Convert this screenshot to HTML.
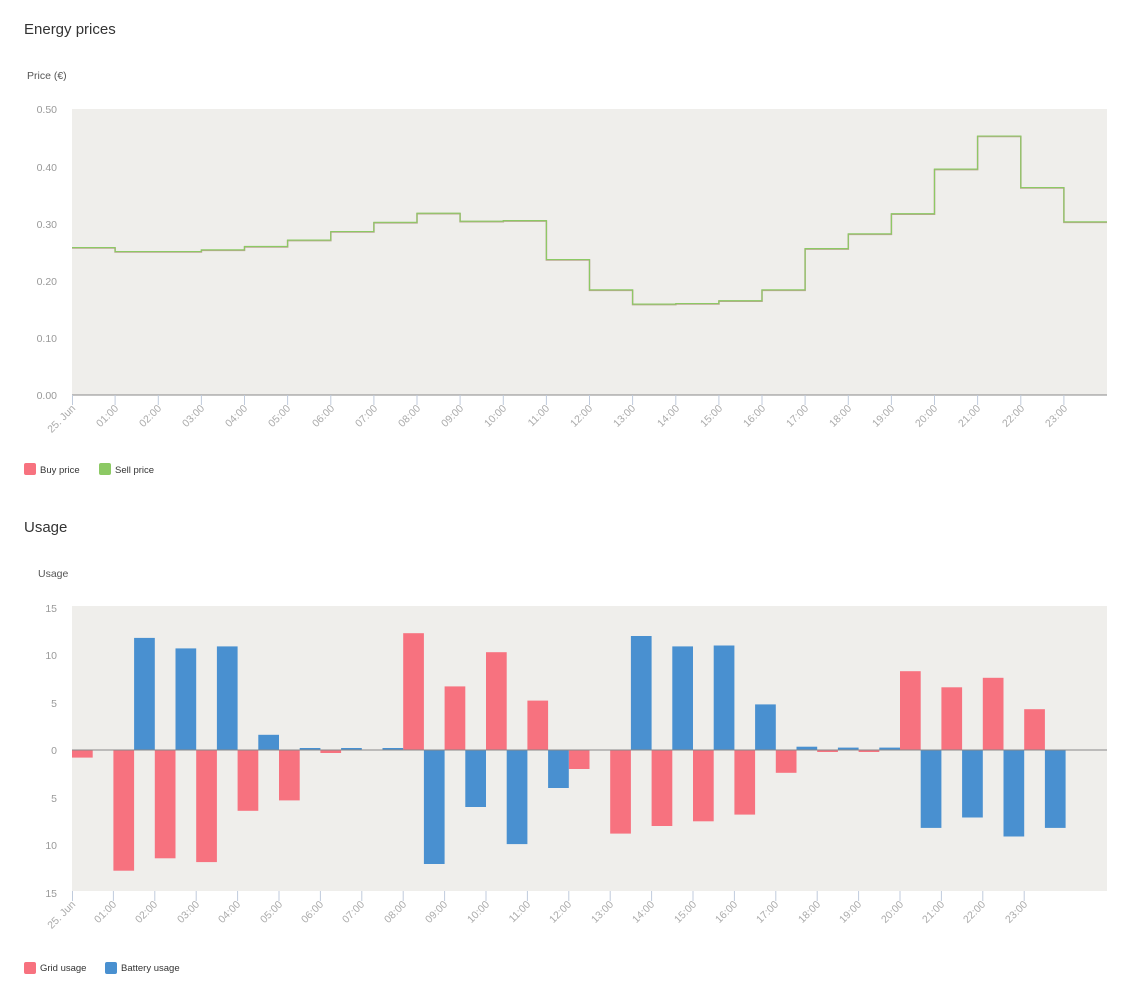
<!DOCTYPE html>
<html><head><meta charset="utf-8"><style>
body{margin:0;background:#fff;width:1133px;height:991px;overflow:hidden;font-family:"Liberation Sans",sans-serif}
svg text{font-family:"Liberation Sans",sans-serif}
</style></head><body>
<svg width="1133" height="991" xmlns="http://www.w3.org/2000/svg">
<text x="24" y="34" font-size="15" fill="#333">Energy prices</text>
<text x="27" y="79" font-size="10.5" fill="#555">Price (€)</text>
<rect x="72" y="109" width="1035" height="286" fill="#efeeeb"/>
<g font-size="10.5" fill="#999" text-anchor="end">
<text x="57" y="113">0.50</text><text x="57" y="171">0.40</text><text x="57" y="228">0.30</text><text x="57" y="285">0.20</text><text x="57" y="342">0.10</text><text x="57" y="399">0.00</text>
</g>
<line x1="72" y1="395" x2="1107" y2="395" stroke="#888" stroke-width="1"/>
<g stroke="#c0cbdc" stroke-width="1">
<path d="M72.5 395v10M115.1 395v10M158.3 395v10M201.4 395v10M244.5 395v10M287.6 395v10M330.8 395v10M373.9 395v10M417 395v10M460.1 395v10M503.3 395v10M546.4 395v10M589.5 395v10M632.6 395v10M675.8 395v10M718.9 395v10M762 395v10M805.1 395v10M848.3 395v10M891.4 395v10M934.5 395v10M977.6 395v10M1020.8 395v10M1063.9 395v10"/>
</g>
<path d="M72,248 H115.1 V252 H158.3 V252 H201.4 V250.3 H244.5 V246.9 H287.6 V240.6 H330.8 V232 H373.9 V222.8 H417 V213.7 H460.1 V221.7 H503.3 V221.1 H546.4 V260 H589.5 V290.3 H632.6 V304.6 H675.8 V304 H718.9 V301.2 H762 V290.3 H805.1 V249.1 H848.3 V234.3 H891.4 V214.2 H934.5 V169.6 H977.6 V136.5 H1020.8 V188 H1063.9 V222.3 H1107" fill="none" stroke="#b8a88f" stroke-width="1.6"/>
<path d="M72,248 H115.1 V252 H158.3 V252 H201.4 V250.3 H244.5 V246.9 H287.6 V240.6 H330.8 V232 H373.9 V222.8 H417 V213.7 H460.1 V221.7 H503.3 V221.1 H546.4 V260 H589.5 V290.3 H632.6 V304.6 H675.8 V304 H718.9 V301.2 H762 V290.3 H805.1 V249.1 H848.3 V234.3 H891.4 V214.2 H934.5 V169.6 H977.6 V136.5 H1020.8 V188 H1063.9 V222.3 H1107" fill="none" stroke="#8cc964" stroke-width="1.1" transform="translate(0,-0.5)"/>
<g font-size="10.5" fill="#aaa" text-anchor="end">
<text transform="translate(76,409) rotate(-45)">25. Jun</text>
<text transform="translate(119,409) rotate(-45)">01:00</text>
<text transform="translate(162,409) rotate(-45)">02:00</text>
<text transform="translate(205,409) rotate(-45)">03:00</text>
<text transform="translate(248,409) rotate(-45)">04:00</text>
<text transform="translate(291,409) rotate(-45)">05:00</text>
<text transform="translate(335,409) rotate(-45)">06:00</text>
<text transform="translate(378,409) rotate(-45)">07:00</text>
<text transform="translate(421,409) rotate(-45)">08:00</text>
<text transform="translate(464,409) rotate(-45)">09:00</text>
<text transform="translate(507,409) rotate(-45)">10:00</text>
<text transform="translate(550,409) rotate(-45)">11:00</text>
<text transform="translate(593,409) rotate(-45)">12:00</text>
<text transform="translate(636,409) rotate(-45)">13:00</text>
<text transform="translate(680,409) rotate(-45)">14:00</text>
<text transform="translate(723,409) rotate(-45)">15:00</text>
<text transform="translate(766,409) rotate(-45)">16:00</text>
<text transform="translate(809,409) rotate(-45)">17:00</text>
<text transform="translate(852,409) rotate(-45)">18:00</text>
<text transform="translate(895,409) rotate(-45)">19:00</text>
<text transform="translate(938,409) rotate(-45)">20:00</text>
<text transform="translate(981,409) rotate(-45)">21:00</text>
<text transform="translate(1025,409) rotate(-45)">22:00</text>
<text transform="translate(1068,409) rotate(-45)">23:00</text>
</g>
<rect x="24" y="463" width="12" height="12" rx="2" fill="#f7727f"/>
<text x="40" y="473" font-size="9.5" fill="#333">Buy price</text>
<rect x="99" y="463" width="12" height="12" rx="2" fill="#8cc964"/>
<text x="115" y="473" font-size="9.5" fill="#333">Sell price</text>

<text x="24" y="532" font-size="15" fill="#333">Usage</text>
<text x="38" y="577" font-size="10.5" fill="#555">Usage</text>
<rect x="72" y="606" width="1035" height="285" fill="#efeeeb"/>
<g font-size="10.5" fill="#999" text-anchor="end">
<text x="57" y="612">15</text><text x="57" y="659">10</text><text x="57" y="707">5</text><text x="57" y="754">0</text><text x="57" y="802">5</text><text x="57" y="849">10</text><text x="57" y="897">15</text>
</g>
<g fill="#f7727f">
<rect x="72" y="750" width="20.7" height="7.6"/>
<rect x="113.4" y="750" width="20.7" height="120.7"/>
<rect x="154.8" y="750" width="20.7" height="108.3"/>
<rect x="196.2" y="750" width="20.7" height="112.1"/>
<rect x="237.6" y="750" width="20.7" height="60.8"/>
<rect x="279" y="750" width="20.7" height="50.4"/>
<rect x="320.4" y="750" width="20.7" height="3"/>
<rect x="403.2" y="633.2" width="20.7" height="116.8"/>
<rect x="444.6" y="686.4" width="20.7" height="63.6"/>
<rect x="486" y="652.2" width="20.7" height="97.8"/>
<rect x="527.4" y="700.6" width="20.7" height="49.4"/>
<rect x="568.8" y="750" width="20.7" height="19"/>
<rect x="610.2" y="750" width="20.7" height="83.6"/>
<rect x="651.6" y="750" width="20.7" height="76"/>
<rect x="693" y="750" width="20.7" height="71.3"/>
<rect x="734.4" y="750" width="20.7" height="64.6"/>
<rect x="775.8" y="750" width="20.7" height="22.8"/>
<rect x="817.2" y="750" width="20.7" height="2"/>
<rect x="858.6" y="750" width="20.7" height="2"/>
<rect x="900" y="671.2" width="20.7" height="78.8"/>
<rect x="941.4" y="687.3" width="20.7" height="62.7"/>
<rect x="982.8" y="677.8" width="20.7" height="72.2"/>
<rect x="1024.2" y="709.2" width="20.7" height="40.8"/>
</g>
<g fill="#4990d0">
<rect x="134.1" y="637.9" width="20.7" height="112.1"/>
<rect x="175.5" y="648.4" width="20.7" height="101.6"/>
<rect x="216.9" y="646.4" width="20.7" height="103.6"/>
<rect x="258.3" y="734.8" width="20.7" height="15.2"/>
<rect x="299.7" y="748" width="20.7" height="2"/>
<rect x="341.1" y="748" width="20.7" height="2"/>
<rect x="382.5" y="748" width="20.7" height="2"/>
<rect x="423.9" y="750" width="20.7" height="114"/>
<rect x="465.3" y="750" width="20.7" height="57"/>
<rect x="506.7" y="750" width="20.7" height="94.1"/>
<rect x="548.1" y="750" width="20.7" height="38"/>
<rect x="630.9" y="636" width="20.7" height="114"/>
<rect x="672.3" y="646.4" width="20.7" height="103.6"/>
<rect x="713.7" y="645.5" width="20.7" height="104.5"/>
<rect x="755.1" y="704.4" width="20.7" height="45.6"/>
<rect x="796.5" y="746.7" width="20.7" height="3.3"/>
<rect x="837.9" y="747.6" width="20.7" height="2.4"/>
<rect x="879.3" y="747.6" width="20.7" height="2.4"/>
<rect x="920.7" y="750" width="20.7" height="77.9"/>
<rect x="962.1" y="750" width="20.7" height="67.5"/>
<rect x="1003.5" y="750" width="20.7" height="86.5"/>
<rect x="1044.9" y="750" width="20.7" height="77.9"/>
</g>
<line x1="72" y1="750" x2="1107" y2="750" stroke="#888" stroke-width="1"/>
<g stroke="#c0cbdc" stroke-width="1">
<path d="M72.5 891v10M113.4 891v10M154.8 891v10M196.2 891v10M237.6 891v10M279 891v10M320.4 891v10M361.8 891v10M403.2 891v10M444.6 891v10M486 891v10M527.4 891v10M568.8 891v10M610.2 891v10M651.6 891v10M693 891v10M734.4 891v10M775.8 891v10M817.2 891v10M858.6 891v10M900 891v10M941.4 891v10M982.8 891v10M1024.2 891v10"/>
</g>
<g font-size="10.5" fill="#aaa" text-anchor="end">
<text transform="translate(76,905) rotate(-45)">25. Jun</text>
<text transform="translate(117,905) rotate(-45)">01:00</text>
<text transform="translate(158,905) rotate(-45)">02:00</text>
<text transform="translate(200,905) rotate(-45)">03:00</text>
<text transform="translate(241,905) rotate(-45)">04:00</text>
<text transform="translate(283,905) rotate(-45)">05:00</text>
<text transform="translate(324,905) rotate(-45)">06:00</text>
<text transform="translate(365,905) rotate(-45)">07:00</text>
<text transform="translate(407,905) rotate(-45)">08:00</text>
<text transform="translate(448,905) rotate(-45)">09:00</text>
<text transform="translate(490,905) rotate(-45)">10:00</text>
<text transform="translate(531,905) rotate(-45)">11:00</text>
<text transform="translate(572,905) rotate(-45)">12:00</text>
<text transform="translate(614,905) rotate(-45)">13:00</text>
<text transform="translate(655,905) rotate(-45)">14:00</text>
<text transform="translate(697,905) rotate(-45)">15:00</text>
<text transform="translate(738,905) rotate(-45)">16:00</text>
<text transform="translate(779,905) rotate(-45)">17:00</text>
<text transform="translate(821,905) rotate(-45)">18:00</text>
<text transform="translate(862,905) rotate(-45)">19:00</text>
<text transform="translate(904,905) rotate(-45)">20:00</text>
<text transform="translate(945,905) rotate(-45)">21:00</text>
<text transform="translate(986,905) rotate(-45)">22:00</text>
<text transform="translate(1028,905) rotate(-45)">23:00</text>
</g>
<rect x="24" y="962" width="12" height="12" rx="2" fill="#f7727f"/>
<text x="40" y="971" font-size="9.5" fill="#333">Grid usage</text>
<rect x="105" y="962" width="12" height="12" rx="2" fill="#4990d0"/>
<text x="121" y="971" font-size="9.5" fill="#333">Battery usage</text>
</svg>
</body></html>
